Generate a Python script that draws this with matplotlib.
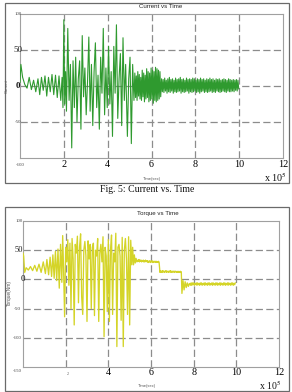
import numpy as np
import matplotlib
matplotlib.use("Agg")
import matplotlib.pyplot as plt
from matplotlib.patches import Rectangle
import matplotlib.transforms as mtransforms

plt.rcParams['lines.scale_dashes'] = False
plt.rcParams['mathtext.fontset'] = 'stix'

# ---------------- data (time in units of 1e5) ----------------
current_time_a = [0.0, 0.04, 0.12, 0.22, 0.32, 0.42, 0.52, 0.62, 0.72, 0.82, 0.90, 0.98,
                  1.06, 1.14, 1.22, 1.30, 1.38, 1.46, 1.54, 1.62, 1.70, 1.78, 1.86, 1.92,
                  1.96, 2.00, 2.04, 2.08, 2.12, 2.18, 2.24, 2.30, 2.36, 2.42, 2.48, 2.54,
                  2.60, 2.66, 2.72, 2.78, 2.84, 2.90, 2.96, 3.02, 3.08, 3.14, 3.20, 3.26,
                  3.32, 3.38, 3.44, 3.50, 3.56, 3.62, 3.68, 3.74, 3.80, 3.86, 3.92, 3.98,
                  4.04, 4.10, 4.16, 4.22, 4.28, 4.34, 4.40, 4.46, 4.52, 4.58, 4.64, 4.70,
                  4.76, 4.82, 4.90, 4.96, 5.02, 5.08, 5.14, 5.20]
current_value_a = [5, 30, 12, 2, -3, 12, -5, 8, -8, 10, -12, 12,
                   -6, 14, -14, 12, -8, 16, -12, 15, -16, 14, -20, 12,
                   -30, 92, -25, 20, -35, 80, -20, 30, -86, 35, -30, 40,
                   -50, 10, 35, -60, 70, -15, 25, -40, 5, 68, -35, 30,
                   -55, 20, 60, -30, 15, -60, 40, -10, 80, -40, 25, -30,
                   55, -25, 20, -70, 55, -10, 85, -45, 10, 45, -55, 67,
                   -20, 30, -70, 10, 40, -80, 30, -20]
current_mid = [18, -16, 14, -20, 20, -14, 16, -18, 12, -20, 22, -15, 18, -22, 15, -18,
               24, -16, 20, -22, 18, -20, 25, -18, 22, -24, 20, -20, 26, -22, 24, -20,
               22, -18, 20, -15]
current_tail = [10, -8, 9, -9, 11, -7, 8, -10, 10, -8, 12, -9, 9, -7, 10, -10, 8, -8, 11, -9,
                9, -8, 10, -7, 12, -10, 9, -8, 10, -9, 8, -8, 11, -7, 9, -10, 10, -8, 9, -9,
                11, -8, 10, -7, 8, -9, 10, -8, 9, -10, 11, -8, 9, -7, 10, -9, 8, -8, 10, -9,
                9, -8, 11, -7, 9, -9, 10, -8, 8, -9, 10, -7, 9, -8, 10, -9, 8, -8, 9, -7,
                10, -8, 9, -9, 8, -7, 10, -8, 9, -8, 8, -7, 9, -8, 8, -6, 9, -7, 8, -4]

torque_time_a = [0.0, 0.03, 0.08, 0.15, 0.25, 0.35, 0.45, 0.55, 0.65, 0.75, 0.85, 0.95,
                 1.05, 1.12, 1.20, 1.27, 1.34, 1.40, 1.46, 1.52, 1.58, 1.64, 1.70, 1.76,
                 1.82, 1.86,
                 1.90, 1.95, 2.00, 2.05, 2.10, 2.15, 2.20, 2.25, 2.30, 2.35, 2.40, 2.45,
                 2.50, 2.55, 2.60, 2.65, 2.70, 2.75, 2.80, 2.85, 2.90, 2.95, 3.00, 3.05,
                 3.10, 3.15, 3.20, 3.25, 3.30, 3.35, 3.40, 3.45, 3.50, 3.55, 3.60, 3.65,
                 3.70, 3.75, 3.80, 3.85, 3.90, 3.95, 4.00, 4.05, 4.10, 4.15, 4.20, 4.25,
                 4.30, 4.35, 4.40, 4.45, 4.50, 4.55, 4.60, 4.65, 4.70, 4.75, 4.80, 4.85,
                 4.90, 4.95, 5.00, 5.05, 5.10, 5.14, 5.18, 5.22, 5.26, 5.30, 5.34]
torque_value_a = [45, 40, 12, 20, 16, 22, 15, 24, 14, 26, 12, 30,
                  10, 34, 8, 38, 5, 42, 2, 48, -2, 52, -15, 60,
                  -5, 75,
                  20, -64, 55, 30, 68, -10, 62, -50, 70, 35, -78, 60,
                  45, 74, -40, 55, 78, -30, -60, 50, 65, 40, -72, 66,
                  35, 60, -50, 55, 62, -62, 50, 40, 70, -72, 45, 60,
                  30, 73, -98, 55, 40, -55, 68, -72, 50, 76, -60, 45,
                  30, 79, -115, 55, 60, 40, -70, 72, -115, 50, 70, 35,
                  -60, 73, -78, 67, 25, 55, 25, 42, 28, 36, 30]
torque_flat1 = [33, 31, 34, 30, 33, 31, 33, 30, 32, 31, 33, 30, 32, 30, 33, 31, 32, 30, 32, 29,
                31, 30, 32, 29, 31, 30, 32, 29, 31, 29, 31, 30, 31, 29, 31, 29, 30, 29, 31, 29]
torque_flat2 = [12, 15, 12, 14, 12, 15, 13, 14, 12, 14, 13, 15, 12, 14, 13, 14, 12, 14, 13, 15,
                12, 14, 12, 14, 13, 14, 12, 14, 13, 14, 12, 13, 12, 14, 12, 13, 12, 14, 12, 13]
torque_ring = [-24, -2, -18, -4, -14, -6, -12, -7]
torque_flat3 = [-10, -6, -10, -6, -9, -6, -10, -7, -9, -6, -10, -6, -9, -7, -10, -6, -9, -6,
                -10, -7, -9, -6, -10, -6, -9, -7, -10, -6, -9, -6, -10, -7, -9, -6, -10, -6,
                -9, -7, -10, -6, -9, -6, -10, -7, -9, -6, -10, -6, -9, -7, -10, -6, -9, -6,
                -10, -7, -9, -6, -10, -6, -9, -7, -10, -6, -9, -6, -10, -7, -9, -6]

x_ticks = [2, 4, 6, 8, 10, 12]
cur_yticks = [100, 50, 0, -50]
tor_yticks = [100, 50, 0, -50, -100]

# assemble series
cur_t = np.concatenate([current_time_a,
                        np.linspace(5.24, 6.42, len(current_mid)),
                        np.linspace(6.46, 9.98, len(current_tail))])
cur_v = np.concatenate([current_value_a, current_mid, current_tail])
tor_t = np.concatenate([torque_time_a,
                        np.linspace(5.38, 6.38, len(torque_flat1)),
                        np.linspace(6.42, 7.42, len(torque_flat2)),
                        np.linspace(7.45, 7.80, len(torque_ring)),
                        np.linspace(7.85, 9.95, len(torque_flat3))])
tor_v = np.concatenate([torque_value_a, torque_flat1, torque_flat2, torque_ring, torque_flat3])

W, H = 292, 392
def P(x, y):
    return x / W, 1 - y / H

fig = plt.figure(figsize=(W / 100, H / 100), dpi=100)

# panel borders
fig.add_artist(Rectangle(P(5, 183), 284 / W, 180 / H, transform=fig.transFigure,
                         fill=False, ec='#6a6a6a', lw=0.9))
fig.add_artist(Rectangle(P(5, 391), 284 / W, 184 / H, transform=fig.transFigure,
                         fill=False, ec='#6a6a6a', lw=0.9))

serif = 'Liberation Serif'
sans = 'Liberation Sans'

def style_axes(ax, ylo, yhi, hlines):
    ax.set_xlim(0, 12)
    ax.set_ylim(ylo, yhi)
    for s in ax.spines.values():
        s.set_color('#a0a0a0')
        s.set_linewidth(0.8)
    for xv in x_ticks[:-1]:
        ax.axvline(xv, color='#8c8c8c', lw=0.9, dashes=(5.2, 2.4), zorder=1)
    for yv in hlines:
        ax.axhline(yv, color='#8c8c8c', lw=0.9, dashes=(5.2, 2.4), zorder=1)
    ax.tick_params(length=0)
    ax.set_yticks([])
    ax.set_xticks(x_ticks)

# ---------------- Current vs Time ----------------
ax1 = fig.add_axes([20 / W, 1 - 158 / H, 263 / W, 144 / H])
style_axes(ax1, -100, 100, [50, 0, -50])
ax1.plot(cur_t, cur_v, color='#2f9a2f', lw=0.8, zorder=3)
ax1.set_xticklabels([str(v) for v in x_ticks], fontfamily=serif, fontsize=7.3)
ax1.tick_params(axis='x', pad=1.5)
tr1 = mtransforms.blended_transform_factory(ax1.transAxes, ax1.transData)
ylab_style = {100: (3.5, 'normal', '#444'), 50: (6.5, 'normal', '#222'),
              0: (6.5, 'bold', '#111'), -50: (3.5, 'normal', '#444')}
for v in cur_yticks:
    fs, fw, c = ylab_style[v]
    ax1.text(-0.008, v, str(v), transform=tr1, ha='center', va='center',
             fontfamily=serif, fontsize=fs, fontweight=fw, color=c, zorder=5)
fig.text(*P(20, 165), '-100', ha='center', va='center', fontfamily=serif, fontsize=3.5, color='#444')
fig.text(*P(161, 6), 'Current vs Time', ha='center', va='center', fontfamily=sans, fontsize=4.4, color='#222')
fig.text(*P(152, 179), 'Time(sec)', ha='center', va='center', fontfamily=sans, fontsize=3, color='#555')
fig.text(*P(7, 86), 'Current', ha='center', va='center', rotation=90, fontfamily=sans, fontsize=3, color='#555')
fig.text(*P(275, 177.5), r'x 10$^{5}$', ha='center', va='center', fontfamily=serif, fontsize=7.3, color='#111')
fig.text(*P(147, 189), 'Fig. 5: Current vs. Time', ha='center', va='center', fontfamily=serif, fontsize=7, color='#111')

# ---------------- Torque vs Time ----------------
ax2 = fig.add_axes([23 / W, 1 - 367 / H, 256 / W, 146 / H])
style_axes(ax2, -150, 100, [50, 0, -50, -100])
ax2.plot(tor_t, tor_v, color='#d4d428', lw=0.95, zorder=3)
ax2.set_xticklabels([''] + [str(v) for v in x_ticks[1:]], fontfamily=serif, fontsize=7.3)
ax2.tick_params(axis='x', pad=1)
fig.text(*P(68, 374), '2', ha='center', va='center', fontfamily=serif, fontsize=3, color='#555')
tr2 = mtransforms.blended_transform_factory(ax2.transAxes, ax2.transData)
ylab_style2 = {100: (3.5, 'normal', '#444'), 50: (6.0, 'normal', '#222'),
               0: (6.5, 'normal', '#111'), -50: (3.8, 'normal', '#444'),
               -100: (3.5, 'normal', '#444')}
xoff2 = {100: -0.015, 50: -0.015, 0: -0.002, -50: -0.022, -100: -0.022}
for v in tor_yticks:
    fs, fw, c = ylab_style2[v]
    ax2.text(xoff2[v], v, str(v), transform=tr2, ha='center', va='center',
             fontfamily=serif, fontsize=fs, fontweight=fw, color=c, zorder=5)
fig.text(*P(17, 371), '-150', ha='center', va='center', fontfamily=serif, fontsize=3.5, color='#444')
fig.text(*P(158, 213), 'Torque vs Time', ha='center', va='center', fontfamily=sans, fontsize=4.4, color='#222')
fig.text(*P(147, 386), 'Time(sec)', ha='center', va='center', fontfamily=sans, fontsize=3, color='#555')
fig.text(*P(9, 293), 'Torque(Nm)', ha='center', va='center', rotation=90, fontfamily=sans, fontsize=3.5, color='#555')
fig.text(*P(270, 385.5), r'x 10$^{5}$', ha='center', va='center', fontfamily=serif, fontsize=7.0, color='#111')

fig.savefig('out.png', dpi=100)
